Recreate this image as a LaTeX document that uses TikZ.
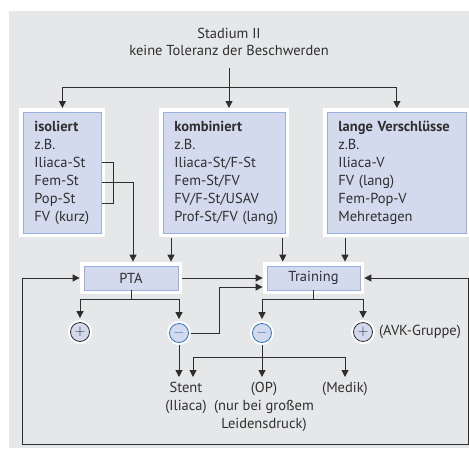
\documentclass[tikz,border=0pt]{standalone}
\usepackage{fontspec}
\setmainfont{PT Sans}
\usetikzlibrary{arrows.meta}
\definecolor{panelgrey}{HTML}{E6E7E9}
\definecolor{boxfill}{HTML}{D3DAEE}
\definecolor{boxline}{HTML}{9BB0DE}
\definecolor{linegrey}{HTML}{2E2E2E}
\definecolor{textgrey}{HTML}{2F2F2F}
\definecolor{minusblue}{HTML}{2F73BE}

\begin{document}
\begin{tikzpicture}[x=1pt, y=-1pt,
  every node/.style={font=\fontsize{14.5}{18}\selectfont, text=textgrey},
  listbox/.style={draw=boxline, fill=boxfill, line width=0.8pt, preaction={draw=white, line width=8pt},
    anchor=north west, align=left, inner xsep=11pt, minimum height=121pt},
  smallbox/.style={draw=boxline, fill=boxfill, line width=0.8pt, preaction={draw=white, line width=8pt},
    minimum height=24pt},
  pluscirc/.style={circle, draw=linegrey, fill=boxfill, line width=0.8pt, minimum size=19pt, inner sep=0pt,
    preaction={draw=white, line width=5pt}},
  minuscirc/.style={pluscirc, draw=minusblue, text=minusblue},
  notetext/.style={anchor=north, align=center, inner sep=1pt},
  conn/.style={draw=linegrey, line width=1pt},
  flow/.style={conn, -{Triangle[length=7pt, width=7pt]}, shorten >=4pt}]
\useasboundingbox (0,0) rectangle (469,448);
\fill[panelgrey] (9,11) rectangle (469,448);

\node[align=center, font=\fontsize{14.5}{17}\selectfont] (title) at (229,41.5) {Stadium II\\keine Toleranz der Beschwerden};
\node[listbox, text width=56pt] (iso) at (23,112) {\textbf{isoliert}\\z.B.\\Iliaca-St\\Fem-St\\Pop-St\\\mbox{FV (kurz)}};
\node[listbox, text width=100pt] (komb) at (163,112) {\textbf{kombiniert}\\z.B.\\\mbox{Iliaca-St/F-St}\\\mbox{Fem-St/FV}\\\mbox{FV/F-St/USAV}\\\mbox{Prof-St/FV (lang)}};
\node[listbox, text width=117pt] (lang) at (327,112) {\mbox{\textbf{lange Verschlüsse}}\\z.B.\\Iliaca-V\\\mbox{FV (lang)}\\\mbox{Fem-Pop-V}\\Mehretagen};
\node[smallbox, minimum width=94pt] (pta) at (131,278) {PTA};
\node[smallbox, minimum width=93pt] (train) at (313.5,278) {Training};
\node[pluscirc] (pplus) at (80,332) {$+$};
\node[minuscirc] (pminus) at (179,333) {$-$};
\node[minuscirc] (tminus) at (262,333) {$-$};
\node[pluscirc] (tplus) at (363,332) {$+$};
\node[anchor=west, inner sep=1pt] (avk) at ([xshift=5pt]tplus.east) {(AVK-Gruppe)};
\node[notetext] (stent) at (186,381) {Stent\\(Iliaca)};
\node[notetext] (op) at (264,381) {(OP)\\(nur bei großem\\Leidensdruck)};
\node[notetext] (medik) at (345,381) {(Medik)};

\coordinate (fork) at (229,87);
\draw[conn, shorten <=9pt] (title.south) -- (fork);
\draw[flow] (fork) -| (iso.north);
\draw[flow] (fork) -- (fork |- komb.north);
\draw[flow] (fork) -| (lang.north);

\draw[conn] ([yshift=-50pt]iso.north east) -- ++(12,0) |- ([yshift=-91pt]iso.north east);
\draw[flow] ([yshift=-70pt]iso.north east) -| ([xshift=2pt]pta.north);
\draw[flow, shorten <=4pt] ([xshift=8pt]komb.south west) -- ([xshift=8pt]komb.south west |- pta.north);
\draw[flow, shorten <=4pt] ([xshift=-3pt]komb.south east) -- ([xshift=-3pt]komb.south east |- train.north);
\draw[flow, shorten <=4pt] ([xshift=18pt]lang.south west) -- ([xshift=18pt]lang.south west |- train.north);

\draw[flow, shorten <=4pt] (pta.east) -- (train.west);
\draw[flow, shorten <=2pt] (pminus.east) -- ++(31,0) |- ([yshift=-9pt]train.west);

\coordinate (ptafork) at ([yshift=-9pt]pta.south);
\draw[conn] (pta.south) -- (ptafork);
\draw[flow] (ptafork) -| (pplus.north);
\draw[flow] (ptafork) -| (pminus.north);

\coordinate (trainfork) at ([yshift=-9pt]train.south);
\draw[conn] (train.south) -- (trainfork);
\draw[flow] (trainfork) -| (tminus.north);
\draw[flow] (trainfork) -| (tplus.north);

\draw[flow, shorten <=2pt] (pminus.south) -- (pminus.south |- stent.north);
\draw[flow, shorten <=2pt] (tminus.south) -- (tminus.south |- op.north);
\coordinate (split) at ([yshift=-15pt]tminus.south);
\draw[flow] (split) -| ([xshift=7pt]stent.north);
\draw[flow] (split) -| (medik.north);

\coordinate (loopright) at (468,444);
\coordinate (loopleft) at (22,444);
\draw[conn, {Triangle[length=7pt, width=7pt]}-{Triangle[length=7pt, width=7pt]}, shorten <=4pt, shorten >=4pt]
  (train.east) -| (loopright) -- (loopleft) |- (pta.west);
\end{tikzpicture}
\end{document}
